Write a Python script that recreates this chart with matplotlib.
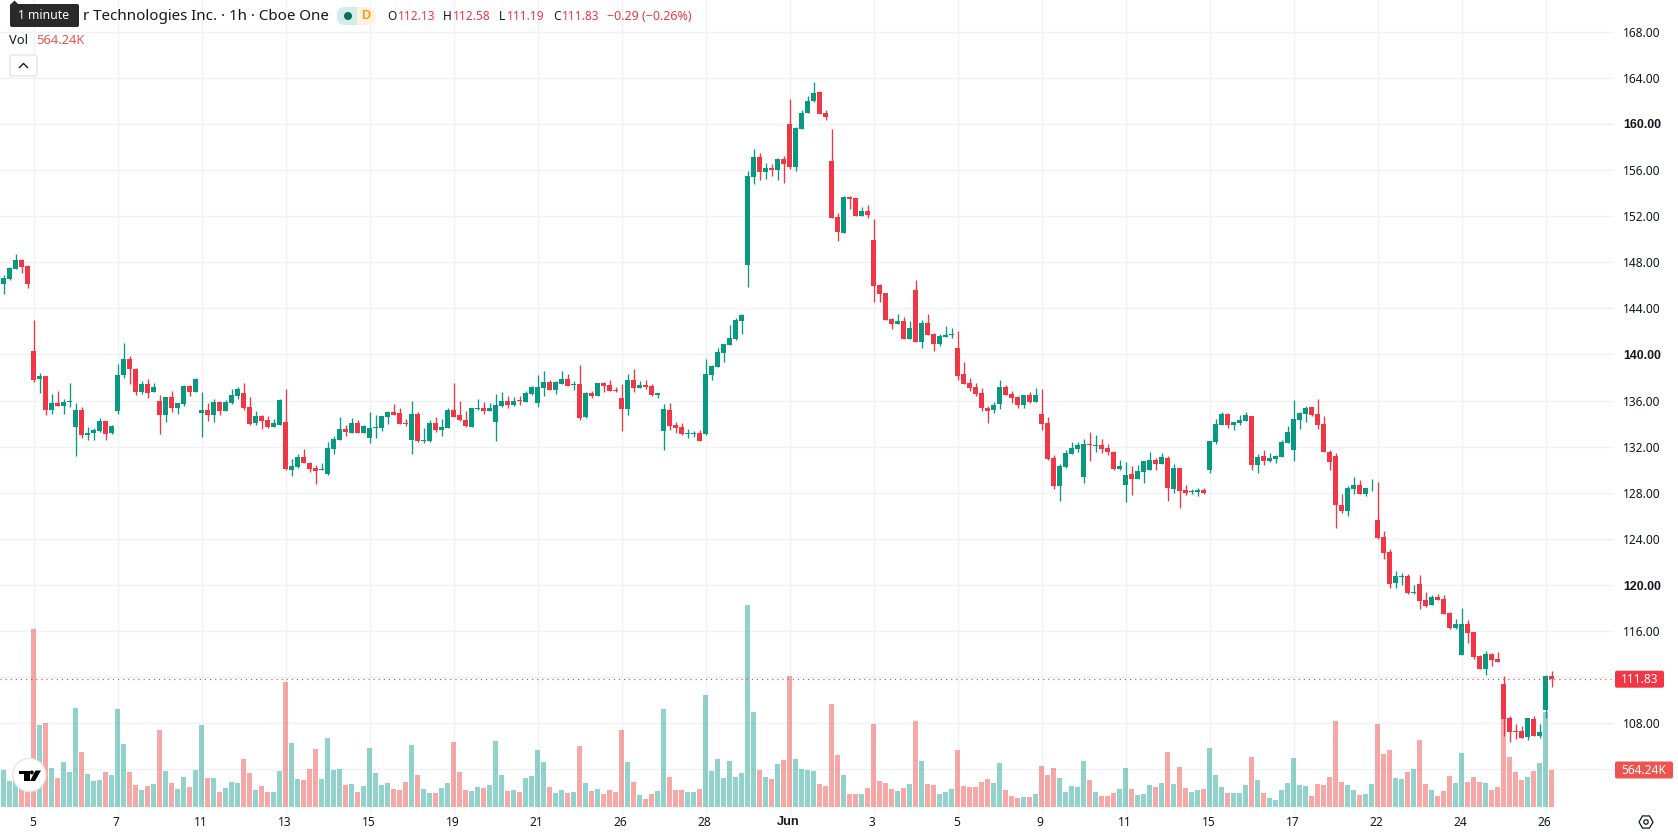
import numpy as np
import matplotlib
matplotlib.use("Agg")
import matplotlib.pyplot as plt
from matplotlib.patches import Circle, FancyBboxPatch, Polygon, Rectangle, RegularPolygon
from matplotlib.transforms import ScaledTranslation

plt.rcParams["font.family"] = ["Noto Sans", "DejaVu Sans"]

FIG_W, FIG_H = 1678, 835
PLOT_RIGHT, PLOT_BOTTOM = 1614, 815

UP = "#089981"
DOWN = "#F23645"
VOL_UP = "#26a69a"
VOL_DOWN = "#ef5350"
GRID = "#f0f1f3"
TEXT = "#131722"

opens = [
    146.14, 146.58, 147.45, 148.23, 147.71, 140.32, 137.88, 138.14, 135.19, 135.80,
    135.54, 135.88, 133.71, 135.19, 133.01, 133.19, 133.36, 134.23, 133.19, 135.10,
    138.23, 139.62, 138.75, 136.75, 137.45, 136.75, 135.97, 134.75, 136.32, 135.36,
    135.71, 137.28, 136.75, 134.93, 135.19, 134.75, 135.88, 135.10, 135.80, 136.41,
    136.67, 135.45, 134.06, 134.67, 134.32, 133.71, 133.88, 134.14, 129.97, 130.23,
    131.10, 130.58, 130.14, 129.97, 129.62, 131.80, 132.58, 133.54, 133.19, 134.06,
    133.19, 132.75, 133.62, 133.62, 134.58, 135.01, 134.93, 134.06, 132.58, 134.84,
    132.49, 132.49, 134.06, 133.45, 133.62, 135.19, 134.75, 134.32, 133.71, 135.28,
    135.36, 135.10, 134.14, 135.54, 135.97, 135.62, 136.06, 135.88, 136.58, 135.80,
    137.10, 137.62, 136.93, 137.45, 137.88, 137.36, 137.45, 134.58, 136.67, 136.41,
    137.54, 137.36, 136.93, 136.23, 135.28, 137.80, 137.10, 137.36, 137.28, 136.49,
    133.36, 135.19, 133.88, 133.71, 133.10, 133.10, 133.19, 133.10, 138.19, 138.88,
    140.10, 140.79, 141.31, 142.87, 147.73, 155.36, 157.09, 155.79, 156.14, 155.97,
    156.92, 159.95, 156.23, 159.52, 160.91, 161.95, 162.73, 160.91, 156.75, 151.89,
    150.50, 153.62, 153.54, 151.98, 152.41, 149.90, 146.00, 145.30, 143.05, 142.61,
    142.87, 141.31, 145.56, 141.05, 142.70, 141.75, 140.88, 141.49, 141.66, 140.55,
    138.29, 137.51, 137.16, 136.64, 135.33, 135.16, 135.68, 137.16, 136.55, 136.29,
    135.59, 136.46, 135.86, 134.81, 134.03, 130.99, 128.55, 130.20, 131.33, 131.77,
    129.33, 132.20, 132.03, 132.12, 131.86, 131.51, 130.03, 128.72, 129.59, 129.16,
    129.77, 129.94, 130.81, 130.46, 130.99, 128.29, 130.12, 128.20, 128.03, 128.03,
    128.20, 129.94, 132.38, 133.86, 134.81, 133.86, 134.03, 134.20, 134.64, 130.38,
    131.16, 130.72, 130.90, 131.07, 132.29, 131.68, 134.29, 134.81, 135.42, 134.81,
    133.94, 131.51, 131.16, 126.90, 126.38, 128.29, 128.72, 127.86, 128.38, 125.68,
    124.20, 122.90, 120.20, 120.72, 120.81, 119.33, 120.12, 118.72, 118.29, 118.99,
    118.81, 117.59, 116.29, 113.94, 116.64, 115.94, 113.86, 112.72, 114.03, 113.59,
    111.42, 108.46, 107.33, 107.33, 106.81, 108.38, 106.90, 109.16, 112.13,
]
highs = [
    146.93, 147.62, 148.75, 148.32, 147.80, 143.01, 138.41, 138.14, 136.58, 136.84,
    136.14, 137.54, 135.80, 135.45, 133.71, 133.62, 134.49, 134.23, 133.88, 139.19,
    141.01, 139.88, 138.84, 137.71, 137.88, 137.54, 136.49, 136.32, 136.84, 135.80,
    137.36, 137.36, 137.97, 136.75, 135.80, 136.14, 135.97, 136.06, 137.01, 137.19,
    137.54, 136.32, 135.10, 134.75, 134.67, 134.41, 136.14, 137.01, 130.93, 131.36,
    131.80, 130.67, 130.41, 130.58, 132.41, 132.93, 134.58, 133.88, 134.49, 134.32,
    133.88, 135.01, 134.75, 134.67, 135.10, 135.71, 135.36, 134.41, 135.97, 135.01,
    133.62, 134.32, 134.58, 134.41, 135.36, 137.54, 135.97, 135.10, 135.36, 136.14,
    135.88, 135.80, 136.58, 136.75, 136.41, 136.32, 136.41, 136.84, 137.28, 138.23,
    138.58, 137.80, 137.71, 138.58, 138.32, 137.71, 139.10, 136.75, 136.84, 137.54,
    137.62, 137.80, 137.19, 137.45, 138.32, 138.75, 137.71, 137.80, 137.45, 136.67,
    135.71, 135.80, 134.14, 134.06, 133.54, 133.36, 133.45, 139.60, 139.10, 140.53,
    140.88, 142.53, 143.13, 143.48, 155.88, 157.79, 157.44, 156.57, 156.49, 157.01,
    157.18, 162.12, 159.69, 161.25, 162.38, 163.68, 162.82, 161.17, 159.52, 152.24,
    153.71, 153.71, 153.54, 152.76, 152.93, 151.72, 146.08, 145.30, 143.13, 143.48,
    143.22, 142.87, 146.43, 142.96, 143.48, 141.83, 141.75, 142.44, 142.27, 142.01,
    139.33, 137.94, 137.51, 137.07, 135.51, 135.86, 137.77, 137.33, 136.81, 136.38,
    136.46, 136.72, 137.07, 136.99, 134.55, 131.25, 130.46, 131.68, 132.38, 132.38,
    132.64, 133.25, 132.99, 132.64, 132.20, 131.59, 130.81, 130.64, 130.29, 130.38,
    130.72, 131.51, 130.99, 131.42, 131.16, 130.46, 130.12, 128.64, 128.29, 128.38,
    128.38, 132.46, 134.38, 134.99, 134.90, 134.12, 134.72, 134.99, 134.64, 131.33,
    131.68, 131.42, 131.25, 132.55, 133.77, 136.03, 134.99, 135.51, 135.42, 136.12,
    134.64, 131.68, 131.42, 127.86, 128.55, 129.33, 129.07, 128.46, 129.16, 128.90,
    124.72, 123.16, 121.25, 121.07, 120.99, 120.03, 120.90, 119.42, 119.16, 119.25,
    119.16, 117.68, 117.07, 118.03, 116.99, 115.94, 113.94, 114.29, 114.12, 114.20,
    112.12, 108.64, 107.94, 107.77, 108.46, 108.64, 107.94, 112.20, 112.58,
]
lows = [
    145.28, 146.49, 147.45, 147.10, 145.80, 137.62, 136.67, 134.75, 134.84, 135.54,
    134.84, 135.45, 131.19, 132.75, 132.58, 132.58, 133.28, 132.58, 133.10, 134.84,
    137.97, 137.45, 136.49, 136.58, 136.23, 136.75, 133.10, 134.14, 135.01, 134.84,
    135.54, 136.41, 136.75, 132.84, 134.23, 134.14, 134.75, 135.10, 135.71, 136.14,
    135.19, 133.88, 133.88, 133.54, 133.62, 133.71, 133.88, 129.97, 129.45, 130.14,
    130.58, 129.80, 128.75, 129.97, 129.54, 131.36, 132.58, 132.93, 133.19, 133.19,
    133.19, 132.32, 132.75, 133.36, 133.97, 134.75, 133.97, 133.80, 131.36, 132.41,
    132.32, 132.41, 133.28, 132.93, 133.62, 134.58, 134.23, 133.71, 133.71, 135.19,
    134.84, 135.10, 132.49, 135.45, 135.36, 135.54, 135.62, 135.88, 136.49, 135.45,
    136.41, 136.93, 136.58, 137.45, 137.28, 136.93, 134.32, 134.49, 136.23, 136.41,
    136.75, 136.84, 136.75, 133.36, 134.75, 136.75, 137.10, 137.01, 136.41, 136.23,
    131.71, 133.45, 133.19, 133.01, 132.75, 132.84, 132.49, 133.01, 137.75, 138.88,
    139.32, 140.79, 141.23, 141.75, 145.82, 154.75, 155.10, 155.18, 155.45, 155.10,
    154.84, 156.05, 155.88, 159.52, 160.91, 161.86, 160.82, 160.30, 151.80, 149.81,
    150.50, 152.58, 151.98, 151.98, 151.80, 144.52, 144.52, 142.96, 142.18, 142.61,
    141.31, 141.31, 141.05, 140.53, 141.66, 140.27, 140.71, 141.49, 141.40, 137.75,
    137.42, 136.81, 136.38, 135.07, 134.03, 134.90, 135.25, 136.46, 135.77, 135.33,
    135.33, 135.77, 135.86, 133.42, 130.81, 128.29, 127.33, 130.12, 131.33, 131.51,
    128.81, 130.72, 131.51, 131.42, 131.25, 129.94, 129.94, 127.16, 127.77, 129.16,
    128.81, 129.94, 129.94, 130.46, 127.25, 127.94, 126.64, 127.77, 127.86, 127.68,
    127.86, 129.68, 132.20, 133.86, 133.59, 133.42, 133.86, 134.20, 129.94, 129.68,
    130.38, 130.64, 130.55, 131.07, 132.29, 130.72, 133.51, 134.12, 134.64, 133.51,
    131.51, 129.94, 124.99, 126.29, 126.03, 127.86, 127.86, 127.68, 128.12, 124.03,
    122.29, 119.77, 119.77, 120.03, 119.25, 119.25, 117.94, 118.12, 118.29, 118.72,
    117.51, 116.20, 116.20, 113.94, 114.99, 113.59, 112.72, 112.20, 112.99, 113.33,
    106.90, 106.38, 106.64, 106.72, 106.55, 106.90, 106.72, 108.46, 111.19,
]
closes = [
    146.67, 147.54, 148.23, 147.62, 146.14, 137.80, 138.14, 135.19, 135.80, 135.54,
    135.88, 135.97, 135.19, 133.01, 133.19, 133.45, 134.23, 133.10, 133.80, 138.23,
    139.62, 138.75, 136.75, 137.45, 136.67, 137.19, 134.75, 136.32, 135.36, 135.80,
    137.28, 136.75, 137.88, 135.19, 134.75, 135.88, 135.10, 135.88, 136.49, 137.01,
    135.36, 133.97, 134.67, 134.23, 133.71, 134.06, 136.06, 130.06, 130.32, 131.10,
    130.58, 130.06, 129.88, 130.06, 131.88, 132.67, 133.54, 133.28, 134.06, 133.19,
    133.80, 133.62, 133.71, 134.67, 135.01, 134.75, 133.97, 133.97, 134.84, 132.49,
    132.58, 134.06, 133.45, 133.71, 135.19, 134.58, 134.32, 133.80, 135.36, 135.36,
    135.10, 135.36, 135.62, 135.97, 135.62, 135.97, 135.97, 136.67, 137.19, 137.19,
    137.62, 136.93, 137.62, 137.88, 137.28, 137.45, 134.49, 136.67, 136.41, 137.54,
    137.28, 136.84, 136.84, 135.28, 137.80, 137.10, 137.36, 137.19, 136.49, 136.67,
    135.28, 133.80, 133.62, 133.10, 133.19, 133.19, 132.49, 138.30, 138.97, 140.18,
    140.88, 141.40, 142.96, 143.39, 155.45, 157.09, 155.79, 156.14, 155.97, 156.92,
    156.49, 156.23, 159.61, 160.99, 162.03, 162.64, 160.82, 160.56, 151.80, 150.59,
    153.62, 153.45, 151.98, 152.41, 152.06, 145.91, 145.21, 142.96, 142.61, 142.87,
    141.31, 142.27, 141.05, 142.70, 141.66, 140.88, 141.57, 141.66, 141.75, 138.12,
    137.42, 137.07, 136.55, 135.33, 135.07, 135.59, 137.16, 136.46, 136.20, 135.59,
    136.46, 135.86, 136.46, 133.94, 130.90, 128.55, 130.29, 131.42, 131.86, 132.12,
    132.20, 132.12, 132.12, 131.77, 131.51, 130.03, 130.29, 129.51, 129.16, 129.86,
    130.72, 130.81, 130.46, 131.07, 128.38, 130.12, 128.12, 127.94, 128.12, 128.20,
    127.94, 132.46, 133.94, 134.81, 133.86, 134.12, 134.29, 134.72, 130.38, 131.07,
    130.72, 130.99, 131.16, 132.38, 133.25, 134.38, 134.90, 135.33, 134.72, 133.86,
    131.51, 130.64, 126.90, 126.38, 128.38, 128.72, 127.86, 128.46, 128.46, 124.12,
    122.81, 120.12, 120.81, 120.81, 119.33, 119.42, 118.64, 118.20, 118.99, 118.72,
    117.51, 116.29, 116.64, 116.64, 115.86, 113.77, 112.72, 114.03, 113.51, 113.33,
    108.38, 107.25, 107.25, 106.72, 108.46, 106.90, 107.25, 112.12, 111.83,
]
# thousands of shares per hour
volumes = [
    564, 396, 396, 310, 234, 2714, 1250, 1281, 595, 442,
    686, 534, 1510, 839, 503, 396, 412, 534, 488, 1494,
    961, 534, 335, 259, 320, 351, 1174, 549, 366, 274,
    457, 305, 564, 1250, 442, 442, 229, 290, 381, 366,
    732, 518, 259, 320, 229, 229, 549, 1906, 976, 427,
    412, 579, 884, 427, 1052, 564, 579, 335, 351, 229,
    320, 900, 518, 335, 366, 274, 259, 381, 945, 488,
    274, 213, 213, 290, 366, 991, 534, 259, 244, 305,
    290, 335, 1006, 488, 244, 259, 229, 442, 473, 869,
    686, 305, 213, 259, 213, 229, 930, 366, 244, 274,
    198, 259, 229, 1174, 686, 381, 183, 122, 198, 244,
    1494, 457, 259, 259, 229, 229, 274, 1708, 549, 732,
    442, 701, 457, 518, 3085, 1449, 564, 457, 427, 656,
    717, 1998, 732, 579, 564, 549, 351, 320, 1571, 793,
    488, 198, 198, 198, 290, 1266, 396, 366, 274, 244,
    290, 351, 1311, 701, 351, 335, 198, 229, 274, 869,
    320, 305, 305, 381, 427, 366, 671, 259, 168, 137,
    152, 152, 198, 625, 488, 595, 442, 229, 320, 305,
    701, 412, 229, 168, 168, 213, 274, 595, 274, 183,
    198, 335, 305, 366, 839, 351, 610, 290, 229, 259,
    274, 900, 488, 305, 213, 213, 213, 335, 762, 412,
    213, 137, 107, 259, 366, 747, 335, 320, 168, 351,
    335, 457, 1311, 381, 335, 259, 183, 198, 351, 1266,
    808, 869, 442, 427, 534, 579, 1022, 351, 259, 168,
    244, 473, 366, 823, 381, 457, 381, 366, 259, 305,
    1357, 762, 534, 412, 457, 549, 671, 1449, 564.24,
]

date_ticks = [5, 19, 33, 47, 61, 75, 89, 103, 117, 131, 145, 159, 173, 187, 201, 215, 229, 243, 257]
date_labels = ["5", "7", "11", "13", "15", "19", "21", "26", "28", "Jun",
               "3", "5", "9", "11", "15", "17", "22", "24", "26"]
price_ticks = [168, 164, 160, 156, 152, 148, 144, 140, 136, 132, 128, 124, 120, 116, 112, 108, 104]
price_labels = ["168.00", "164.00", "160.00", "156.00", "152.00", "148.00", "144.00", "140.00", "136.00",
                "132.00", "128.00", "124.00", "120.00", "116.00", "", "108.00", ""]
bold_prices = ["160.00", "140.00", "120.00"]

o = np.array(opens)
h = np.array(highs)
l = np.array(lows)
c = np.array(closes)
v = np.array(volumes)
idx = np.arange(len(o))
rising = c >= o

fig = plt.figure(figsize=(FIG_W / 100, FIG_H / 100), dpi=100, facecolor="white")
pos = [0, 1 - PLOT_BOTTOM / FIG_H, PLOT_RIGHT / FIG_W, PLOT_BOTTOM / FIG_H]

# one bar every 6 pixels, first bar centred at x = 3.5
xlim = (-3.5 / 6, (PLOT_RIGHT - 3.5) / 6)
ylim = (100.05, 170.75)
vol_per_px = 15.25

# bottom layer: grid and scales
ax = fig.add_axes(pos, zorder=1)
ax.set_xlim(xlim)
ax.set_ylim(ylim)
for s in ax.spines.values():
    s.set_visible(False)
ax.set_xticks(date_ticks, date_labels)
ax.yaxis.tick_right()
ax.set_yticks(price_ticks, price_labels)
ax.tick_params(axis="x", length=0, pad=1, labelsize=8.6, labelcolor=TEXT)
ax.tick_params(axis="y", length=0, pad=6.5, labelsize=8.6, labelcolor=TEXT)
ax.grid(True, color=GRID, linewidth=1.0)
ax.set_axisbelow(True)

# Noto Sans has no bold face here, so the emphasised labels use Liberation Sans
nudge = ScaledTranslation(-1.2 / 100, 0, fig.dpi_scale_trans)
for lab in ax.get_xticklabels():
    lab.set_transform(lab.get_transform() + nudge)
    if lab.get_text() == "Jun":
        lab.set_fontfamily("Liberation Sans")
        lab.set_fontweight("bold")
        lab.set_fontsize(9.2)
for lab in ax.get_yticklabels():
    if lab.get_text() in bold_prices:
        lab.set_fontfamily("Liberation Sans")
        lab.set_fontweight("bold")
        lab.set_fontsize(8.9)

# volume histogram sits over the grid but under the candles
ax_vol = fig.add_axes(pos, zorder=2)
ax_vol.patch.set_visible(False)
ax_vol.axis("off")
ax_vol.set_xlim(xlim)
ax_vol.set_ylim(-(PLOT_BOTTOM - 807) * vol_per_px, 807 * vol_per_px)
ax_vol.bar(idx, v, width=5 / 6, alpha=0.5, linewidth=0,
           color=[VOL_UP if r else VOL_DOWN for r in rising])

ax_c = fig.add_axes(pos, zorder=3)
ax_c.patch.set_visible(False)
ax_c.axis("off")
ax_c.set_xlim(xlim)
ax_c.set_ylim(ylim)
candle_colors = [UP if r else DOWN for r in rising]
ax_c.vlines(idx, l, h, colors=candle_colors, linewidth=0.95)
ax_c.bar(idx, np.abs(c - o), bottom=np.minimum(o, c), width=5 / 6, color=candle_colors, linewidth=0)
ax_c.axhline(c[-1], color=DOWN, linewidth=0.8, linestyle=(0, (1, 3.6)))

# legend, tooltip, axis badges and logo live on a pixel-sized overlay
ui = fig.add_axes([0, 0, 1, 1], zorder=4)
ui.patch.set_visible(False)
ui.axis("off")
ui.set_xlim(0, FIG_W)
ui.set_ylim(FIG_H, 0)


def legend_text(x, y, s, color=TEXT, size=8.6, **kw):
    ui.text(x, y, s, color=color, fontsize=size, va="center", **kw)


def to_px(axes, value):
    return FIG_H - axes.transData.transform((0, value))[1]


legend_text(83, 16.5, "r Technologies Inc. · 1h · Cboe One", size=10.9)

# exchange status pill
pill = (337, 7, 39, 18)
for color, clip_x, clip_w in [("#d2ece7", 337, 20), ("#fff1e0", 357, 19)]:
    p = FancyBboxPatch((pill[0] + 8, pill[1] + 8), pill[2] - 16, pill[3] - 16,
                       boxstyle="round,pad=8", fc=color, ec="none")
    ui.add_patch(p)
    p.set_clip_path(Rectangle((clip_x, 0), clip_w, 40, transform=ui.transData))
ui.add_patch(Circle((348, 16), 4.0, fc="#0b6b5b", ec="none"))
legend_text(366, 16, "D", color="#ff9800", ha="center", fontweight="bold", size=9.0, family="Liberation Sans")

for label, lx, value, vx in [("O", 387, "112.13", 398), ("H", 443, "112.58", 453),
                             ("L", 499, "111.19", 507), ("C", 553, "111.83", 562)]:
    legend_text(lx, 16.5, label)
    legend_text(vx, 16.5, value, color=DOWN)
legend_text(607, 16.5, "−0.29 (−0.26%)", color=DOWN, size=9.0)

legend_text(9, 41, "Vol", size=9.3)
legend_text(36, 41, "564.24K", color=VOL_DOWN, size=9.3)

ui.add_patch(FancyBboxPatch((12, 57), 23, 17, boxstyle="round,pad=2", fc="white", ec="#e0e3eb", lw=0.9))
ui.plot([19.5, 23.5, 27.5], [67.5, 63.5, 67.5], color=TEXT, lw=1.0)

# hover tooltip
ui.add_patch(Polygon([[10, 5], [14.5, 0.5], [19, 5]], fc="#2a2a2a", ec="none", zorder=5))
ui.add_patch(FancyBboxPatch((12, 6), 65, 19, boxstyle="round,pad=2", fc="#2a2a2a", ec="none", zorder=5))
ui.text(44, 15.5, "1 minute", color="white", fontsize=8.8, ha="center", va="center", zorder=6)

# last price and last volume badges on the scale
y_close = to_px(ax, c[-1])
ui.add_patch(FancyBboxPatch((1617, y_close - 6.5), 45, 13, boxstyle="round,pad=2", fc=DOWN, ec="none"))
ui.text(1640, y_close, f"{c[-1]:.2f}", color="white", fontsize=8.6, ha="center", va="center")
y_vol = to_px(ax_vol, v[-1])
ui.add_patch(FancyBboxPatch((1617, y_vol - 6.5), 54, 13, boxstyle="round,pad=2", fc=VOL_DOWN, ec="none"))
ui.text(1644, y_vol, "564.24K", color="white", fontsize=8.6, ha="center", va="center")

# settings gear in the corner
ui.add_patch(RegularPolygon((1646, 822), 6, radius=7, orientation=np.pi / 2, fc="none", ec=TEXT, lw=0.9))
ui.add_patch(Circle((1646, 822), 2.2, fc="none", ec=TEXT, lw=0.9))

# logo badge over the volume bars
ui.add_patch(Circle((29.3, 775), 16.5, fc="white", ec="#e6e6e6", lw=1.0))
ui.add_patch(Polygon([[19, 770.5], [29.5, 770.5], [29.5, 781], [24, 781], [24, 774.2], [19, 774.2]], fc="black", ec="none"))
ui.add_patch(Circle((31.8, 772.5), 2.0, fc="black", ec="none"))
ui.add_patch(Polygon([[35.5, 770.5], [41, 770.5], [35, 781], [30, 781]], fc="black", ec="none"))

fig.savefig("out.png", dpi=100, facecolor="white")
